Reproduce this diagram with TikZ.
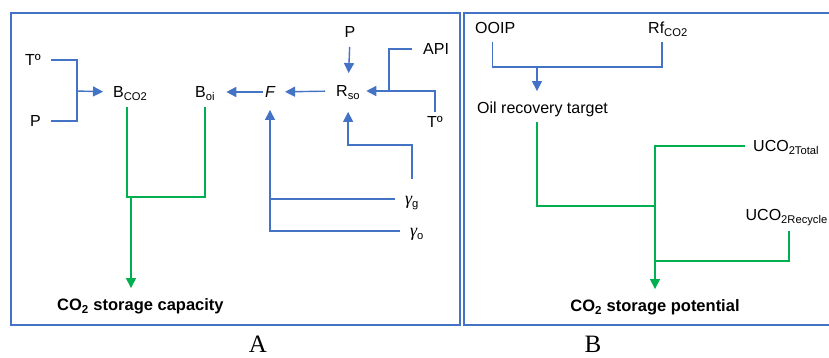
\documentclass[tikz,border=0pt]{standalone}
\usepackage{fontspec}
\setmainfont{Liberation Sans}
\newfontfamily\capfont{Liberation Serif}
\usetikzlibrary{positioning, arrows.meta, calc}
\definecolor{flow_blue}{RGB}{68, 114, 196}
\definecolor{flow_green}{RGB}{0, 176, 80}
\newcommand{\grk}{{\capfont\itshape\fontsize{18}{19}\selectfont γ}}

\begin{document}
\begin{tikzpicture}[x=1pt, y=-1pt, >={Triangle[width=10pt, length=10pt]},
      lbl/.style={inner sep=0pt, text height=11.5pt, text depth=0pt,
        font=\fontsize{16}{19}\selectfont},
      res/.style={lbl, font=\fontsize{16.5}{19}\selectfont\bfseries},
      bl/.style={draw=flow_blue, line width=1.4pt},
      gr/.style={draw=flow_green, line width=1.5pt},
      frame/.style={draw=flow_blue, line width=1.8pt},
      panel/.style={font=\capfont\fontsize{25}{28}\selectfont, inner sep=0pt}]
    \useasboundingbox (0,0) rectangle (829,357);
    \draw[frame] (11,13) rectangle (460,325);
    \draw[frame] (464,13) rectangle (845,325);

    % A: storage capacity
    \node[lbl, anchor=west] (tA)   at (25,60)   {Tº};
    \node[lbl, anchor=west] (pA)   at (30,121)  {P};
    \node[lbl, anchor=west] (bco2) at (113,92)  {B\textsubscript{CO2}};
    \node[lbl, anchor=west] (boi)  at (195,92)  {B\textsubscript{oi}};
    \node[lbl]              (f)    at (270,92)  {\itshape F};
    \node[lbl, anchor=west] (rso)  at (336,91)  {R\textsubscript{so}};
    \node[lbl]              (pB)   at (350,32)  {P};
    \node[lbl, anchor=west] (api)  at (423,49)  {API};
    \node[lbl]              (tB)   at (435,122) {Tº};
    \node[lbl]              (gg)   at (412,199) {\grk\textsubscript{g}};
    \node[lbl]              (go)   at (417,231) {\grk\textsubscript{o}};
    \node[res, anchor=west] (cap)  at (57,305)  {CO\textsubscript{2} storage capacity};
    \coordinate (jA) at (77,91);
    \coordinate (jR) at (389,91);
    \coordinate (jG) at (127,197);
    \coordinate (jC) at (131,197);

    \draw[bl, shorten <=10pt] (tA.east) -| (jA);
    \draw[bl, shorten <=10pt] (pA.east) -| (jA);
    \draw[bl, ->, shorten >=10pt] (jA) -- (bco2.west);
    \draw[bl, ->, shorten <=9pt, shorten >=12pt] (pB.south) -- (rso.north);
    \draw[bl, shorten <=11pt] (api.west) -| (jR);
    \draw[bl, shorten <=4pt] (tB.north) |- (jR);
    \draw[bl, ->, shorten >=6pt] (jR) -- (rso.east);
    \draw[bl, ->, shorten <=14pt, shorten >=15pt] (gg.north) |- ($(rso.south)+(0,48)$) -- (rso.south);
    \draw[bl, ->, shorten <=11pt, shorten >=10pt] (rso.west) -- (f.east);
    \draw[bl, ->, shorten <=2pt, shorten >=11pt] (f.west) -- (boi.east);
    \draw[bl, shorten <=10pt] (gg.west) -- (gg.west -| f.south);
    \draw[bl, ->, shorten <=10pt, shorten >=12pt] (go.west) -| (f.south);
    \draw[gr, shorten <=9pt, shorten >=9pt] (jG |- bco2.south) |- (jG) -| (boi.south);
    \draw[gr, ->, shorten >=11pt] (jC) -- (jC |- cap.north);

    % B: storage potential
    \node[lbl, anchor=west] (ooip) at (475,28)  {OOIP};
    \node[lbl, anchor=west] (rf)   at (648,28)  {Rf\textsubscript{CO2}};
    \node[lbl, anchor=west] (orec) at (477,108) {Oil recovery target};
    \node[lbl, anchor=west] (ut)   at (753,146) {UCO\textsubscript{2Total}};
    \node[lbl, anchor=east] (ur)   at (828,215) {UCO\textsubscript{2Recycle}};
    \node[res]              (pot)  at (655,306) {CO\textsubscript{2} storage potential};
    \coordinate (jO) at (537,67);
    \coordinate (jS) at (655,206);
    \coordinate (jU) at (789,261);

    \draw[bl, shorten <=8pt, shorten >=8pt] ([xshift=-3pt]ooip.south) |- (jO) -| ([xshift=-6pt]rf.south);
    \draw[bl, ->, shorten >=11pt] (jO) -- (jO |- orec.north);
    \draw[gr, shorten <=8pt] (jO |- orec.south) |- (jS);
    \draw[gr, shorten <=8pt] (ut.west) -| (jS);
    \draw[gr, ->, shorten >=11pt] (jS) -- (jS |- pot.north);
    \draw[gr, shorten <=10pt] (jU |- ur.south) |- (jU -| jS);

    \node[panel] (capA) at (258,344) {A};
    \node[panel] (capB) at (593,344) {B};
  \end{tikzpicture}
\end{document}
